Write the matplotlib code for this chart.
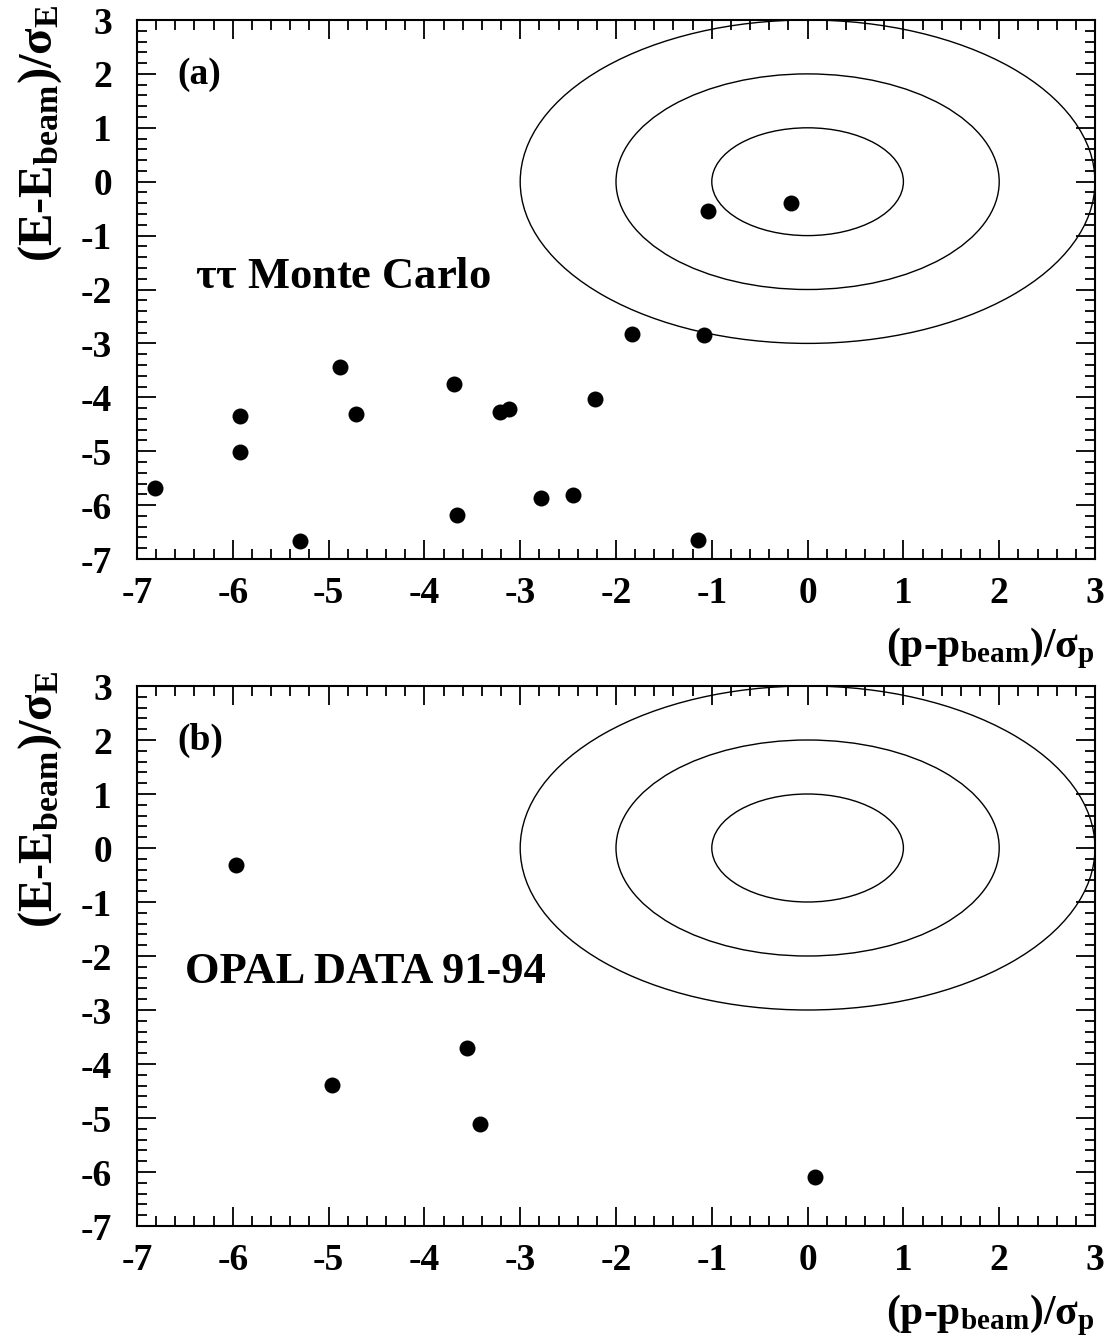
import numpy as np
from matplotlib import pyplot as plt
from matplotlib.patches import Ellipse
from matplotlib.ticker import MultipleLocator

plt.rcParams['font.family'] = ['Liberation Serif', 'DejaVu Serif']
plt.rcParams['font.weight'] = 'bold'
plt.rcParams['mathtext.fontset'] = 'custom'
plt.rcParams['mathtext.rm'] = 'Liberation Serif'
plt.rcParams['mathtext.it'] = 'Liberation Serif:bold'
plt.rcParams['mathtext.bf'] = 'Liberation Serif:bold'
plt.rcParams['mathtext.default'] = 'bf'
plt.rcParams['axes.unicode_minus'] = False

# (a) tau tau Monte Carlo
mc_x = [-6.81, -5.92, -5.92, -5.30, -4.88, -4.71, -3.69, -3.66, -3.21,
        -3.12, -2.78, -2.45, -2.22, -1.83, -1.08, -1.14, -1.04, -0.17]
mc_y = [-5.69, -4.35, -5.02, -6.67, -3.44, -4.31, -3.75, -6.18, -4.27,
        -4.22, -5.87, -5.81, -4.03, -2.83, -2.85, -6.65, -0.55, -0.40]

# (b) OPAL data 91-94
data_x = [-5.97, -4.96, -3.56, -3.42, 0.08]
data_y = [-0.31, -4.39, -3.70, -5.11, -6.09]

sigma_radii = [1, 2, 3]

W, H = 1109, 1338
fig = plt.figure(figsize=(W / 100, H / 100), dpi=100)

def px_box(left, top, right, bottom):
    return [left / W, 1 - bottom / H, (right - left) / W, (bottom - top) / H]

ax_a = fig.add_axes(px_box(137, 20, 1095, 559))
ax_b = fig.add_axes(px_box(137, 686, 1095, 1226))

panels = [
    (ax_a, mc_x, mc_y, '(a)', (-6.58, 1.98), r'$\mathrm{\tau\tau}$ Monte Carlo', (-6.39, -1.77), 20, 559),
    (ax_b, data_x, data_y, '(b)', (-6.58, 2.0), 'OPAL DATA 91-94', (-6.50, -2.30), 686, 1226),
]

for ax, xs, ys, tag, tag_pos, label, label_pos, top_px, bot_px in panels:
    for r in sigma_radii:
        ax.add_patch(Ellipse((0, 0), 2 * r, 2 * r, fill=False, color='k', lw=1.0))
    ax.plot(xs, ys, 'o', color='k', ms=11.5, mew=0)
    ax.set_xlim(-7, 3)
    ax.set_ylim(-7, 3)
    ax.xaxis.set_major_locator(MultipleLocator(1))
    ax.xaxis.set_minor_locator(MultipleLocator(0.2))
    ax.yaxis.set_major_locator(MultipleLocator(1))
    ax.yaxis.set_minor_locator(MultipleLocator(0.2))
    ax.tick_params(which='both', direction='in', top=True, right=True,
                   labelsize=27, width=1.3)
    ax.tick_params(which='major', length=14)
    ax.tick_params(which='minor', length=7)
    ax.tick_params(axis='x', pad=12)
    ax.tick_params(axis='y', pad=18)
    for lab in ax.get_xticklabels() + ax.get_yticklabels():
        lab.set_fontweight('bold')
    for sp in ax.spines.values():
        sp.set_linewidth(1.5)
    ax.text(tag_pos[0], tag_pos[1], tag, fontsize=27, fontweight='bold', va='center')
    ax.text(label_pos[0], label_pos[1], label, fontsize=32, fontweight='bold', va='center')

    fig.text(40 / W, 1 - (top_px - 15) / H, r'$(E$-$E_{beam})/\sigma_E$',
             rotation=90, ha='center', va='top', fontsize=35)
    fig.text(1095 / W, 1 - (bot_px + 112) / H, r'$(p$-$p_{beam})/\sigma_p$',
             ha='right', va='bottom', fontsize=30)

fig.savefig('out.png', dpi=100)
